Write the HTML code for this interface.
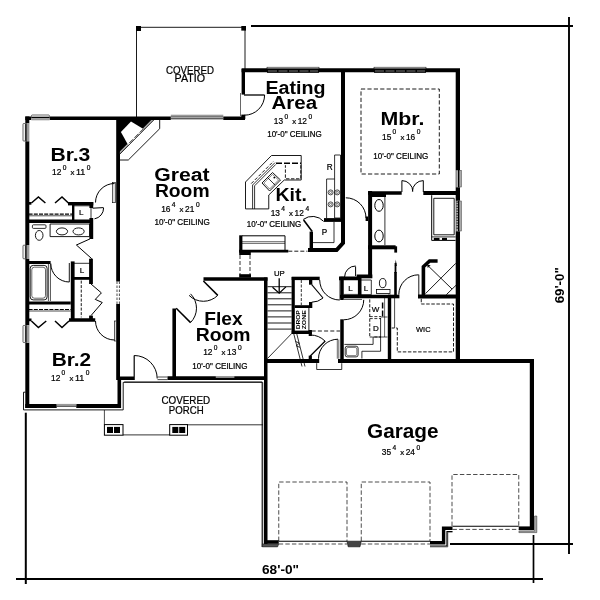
<!DOCTYPE html>
<html><head><meta charset="utf-8"><title>Floor Plan</title>
<style>
html,body{margin:0;padding:0;background:#fff;}
body{width:600px;height:600px;overflow:hidden;font-family:"Liberation Sans",sans-serif;}
svg{display:block;will-change:transform;font-family:"Liberation Sans",sans-serif;}
.w{fill:none;stroke:#000;stroke-linecap:butt;stroke-linejoin:miter;}
.k{fill:#000;}
.t{fill:none;stroke:#000;}
.win{fill:#fff;stroke:#000;stroke-width:0.7;}
.leaf{fill:#ddd;stroke:#000;stroke-width:0.6;}
text{fill:#000;}
.sm{stroke:#000;stroke-width:0.22;}
</style></head><body>
<svg width="600" height="600" viewBox="0 0 600 600">
<rect width="600" height="600" fill="#fff"/>
<g class="dimln">
<path d="M251 26H573" class="t" stroke-width="1.9" />
<path d="M569 17V554" class="t" stroke-width="1.9" />
<path d="M450 544H573" class="t" stroke-width="1.9" />
<path d="M533.5 535V583" class="t" stroke-width="1.7" />
<path d="M16 579H543" class="t" stroke-width="2.0" />
<path d="M25.8 412.7V584" class="t" stroke-width="2.0" />
</g>
<path d="M136.5 30V117" class="t" stroke-width="0.9" />
<path d="M140 27.3H243" class="t" stroke-width="0.9" />
<path d="M245 30V70" class="t" stroke-width="0.9" />
<rect x="136.00" y="26.00" width="5.00" height="5.00" class="k"/>
<rect x="241.30" y="26.00" width="4.70" height="4.60" class="k"/>
<path d="M243.3 94.6V69" class="w" stroke-width="3.4" />
<path d="M241.6 70.3H460" class="w" stroke-width="4.0" />
<path d="M457.85 69V362" class="w" stroke-width="4.3" />
<path d="M343 71V243L336.6 250H308" class="w" stroke-width="4.0" />
<path d="M245 118.3H25.3" class="w" stroke-width="3.6" />
<path d="M27.3 116.5V408" class="w" stroke-width="4.0" />
<rect x="241.30" y="114.60" width="4.00" height="4.40" class="k"/>
<path d="M118.1 118V281.5" class="w" stroke-width="3.8" />
<path d="M118.1 304V380" class="w" stroke-width="3.8" />
<path d="M117 281.5V304" class="t" stroke-width="0.7" stroke-dasharray="2.5 1.5" stroke="#222"/>
<path d="M119.4 281.5V304" class="t" stroke-width="0.7" stroke-dasharray="2.5 1.5" stroke="#222"/>
<path d="M25.3 406H121" class="w" stroke-width="4.0" />
<path d="M119.3 408V378.3H134" class="w" stroke-width="3.6" />
<path d="M25.5 392.2H23.5V409.9H123.2V382.4H262.7V547" class="t" stroke-width="0.9" />
<path d="M124.2 381.6H261.8V547" class="t" stroke-width="0.5" stroke="#888"/>
<path d="M104.4 410V424.4" class="t" stroke-width="0.7" />
<path d="M167.5 378.2H265.7" class="w" stroke-width="3.8" />
<path d="M174.2 378V308.5" class="w" stroke-width="3.6" />
<path d="M203.5 279H267.5" class="w" stroke-width="3.4" />
<path d="M265.75 277.5V545" class="w" stroke-width="3.5" />
<path d="M264 361H319.2" class="w" stroke-width="3.8" />
<path d="M338 361H534" class="w" stroke-width="4.0" />
<path d="M531.9 359V530" class="w" stroke-width="4.2" />
<rect x="267.00" y="67.20" width="52.00" height="1.60" fill="#fff" stroke="#000" stroke-width="0.55" rx="0"/>
<rect x="267.00" y="68.80" width="52.00" height="4.00" fill="#000" rx="0"/>
<path d="M268 71H318" stroke="#888" stroke-width="0.9" stroke-dasharray="9 1.5"/>
<rect x="374.00" y="67.20" width="52.00" height="1.60" fill="#fff" stroke="#000" stroke-width="0.55" rx="0"/>
<rect x="374.00" y="68.80" width="52.00" height="4.00" fill="#000" rx="0"/>
<path d="M375 71H425" stroke="#888" stroke-width="0.9" stroke-dasharray="9 1.5"/>
<rect x="170.80" y="114.40" width="52.50" height="6.00" fill="#fff" rx="0"/>
<rect x="170.80" y="114.70" width="52.50" height="2.00" fill="#9a9a9a" rx="0"/>
<path d="M170.8 117H223.3" stroke="#000" stroke-width="0.7"/><path d="M170.8 118.8H223.3" stroke="#000" stroke-width="0.9"/>
<rect x="31.30" y="116.00" width="18.30" height="4.60" fill="#fff" rx="0"/>
<rect x="31.50" y="115.00" width="17.90" height="2.00" fill="#fff" stroke="#000" stroke-width="0.6" rx="0.8"/>
<rect x="31.30" y="117.00" width="18.30" height="1.30" fill="#000" rx="0"/>
<rect x="31.30" y="118.30" width="18.30" height="2.00" fill="#9a9a9a" rx="0"/>
<rect x="24.50" y="123.30" width="5.10" height="17.95" fill="#fff" rx="0"/>
<rect x="23.00" y="123.50" width="2.40" height="17.55" fill="#fff" stroke="#000" stroke-width="0.6" rx="0.8"/>
<rect x="25.40" y="123.30" width="1.40" height="17.95" fill="#000" rx="0"/>
<rect x="26.80" y="123.30" width="2.30" height="17.95" fill="#9a9a9a" rx="0"/>
<rect x="24.50" y="245.00" width="5.10" height="14.00" fill="#fff" rx="0"/>
<rect x="23.00" y="245.20" width="2.40" height="13.60" fill="#fff" stroke="#000" stroke-width="0.6" rx="0.8"/>
<rect x="25.40" y="245.00" width="1.40" height="14.00" fill="#000" rx="0"/>
<rect x="26.80" y="245.00" width="2.30" height="14.00" fill="#9a9a9a" rx="0"/>
<rect x="24.50" y="325.25" width="5.10" height="17.50" fill="#fff" rx="0"/>
<rect x="23.00" y="325.45" width="2.40" height="17.10" fill="#fff" stroke="#000" stroke-width="0.6" rx="0.8"/>
<rect x="25.40" y="325.25" width="1.40" height="17.50" fill="#000" rx="0"/>
<rect x="26.80" y="325.25" width="2.30" height="17.50" fill="#9a9a9a" rx="0"/>
<rect x="455.80" y="170.00" width="5.20" height="17.30" fill="#fff" rx="0"/>
<rect x="456.40" y="170.00" width="1.60" height="17.30" fill="#ddd" stroke="#000" stroke-width="0.4" rx="0"/>
<rect x="458.00" y="170.00" width="1.30" height="17.30" fill="#000" rx="0"/>
<rect x="459.50" y="170.30" width="1.80" height="16.70" fill="#aaa" stroke="#333" stroke-width="0.5" rx="0"/>
<rect x="455.80" y="200.70" width="5.20" height="30.60" fill="#fff" rx="0"/>
<rect x="456.40" y="200.70" width="1.60" height="30.60" fill="#ddd" stroke="#000" stroke-width="0.4" rx="0"/>
<path d="M456.4 202.2H458.2" stroke="#000" stroke-width="0.8"/>
<path d="M456.4 204.8H458.2" stroke="#000" stroke-width="0.8"/>
<path d="M456.4 207.4H458.2" stroke="#000" stroke-width="0.8"/>
<path d="M456.4 210.0H458.2" stroke="#000" stroke-width="0.8"/>
<path d="M456.4 212.6H458.2" stroke="#000" stroke-width="0.8"/>
<path d="M456.4 215.2H458.2" stroke="#000" stroke-width="0.8"/>
<path d="M456.4 217.8H458.2" stroke="#000" stroke-width="0.8"/>
<path d="M456.4 220.4H458.2" stroke="#000" stroke-width="0.8"/>
<path d="M456.4 223.0H458.2" stroke="#000" stroke-width="0.8"/>
<path d="M456.4 225.6H458.2" stroke="#000" stroke-width="0.8"/>
<path d="M456.4 228.2H458.2" stroke="#000" stroke-width="0.8"/>
<rect x="458.00" y="200.70" width="1.30" height="30.60" fill="#000" rx="0"/>
<rect x="459.50" y="201.00" width="1.80" height="30.00" fill="#aaa" stroke="#333" stroke-width="0.5" rx="0"/>
<rect x="56.70" y="403.40" width="19.55" height="4.90" fill="#fff" rx="0"/>
<rect x="56.70" y="403.90" width="19.55" height="1.60" fill="#9a9a9a" rx="0"/>
<path d="M56.7 406.2H76.25" stroke="#000" stroke-width="0.9"/>
<rect x="215.75" y="376.00" width="18.65" height="1.90" fill="#9a9a9a" rx="0"/>
<rect x="112.60" y="182.50" width="2.70" height="20.20" class="leaf"/>
<rect x="114.30" y="321.00" width="2.10" height="20.00" class="leaf"/>
<path d="M119.7 120H151.5L119.7 151.8Z" fill="#000"/>
<path d="M143 128.7L127.7 144.3L120.9 131.9L131 121.5Z" fill="#fff"/>
<path d="M151.5 120H153.6L144.3 129.3L143 128.7Z" fill="#999"/><path d="M127.7 144.3L128.6 145.2L119.9 153.9V151.8Z" fill="#999"/>
<path d="M153.8 120L119.8 154.2" class="t" stroke-width="0.8" />
<path d="M159.7 120V128.7L128.3 160H119.7" class="t" stroke-width="0.9" />
<path d="M143.8 128.6L127.6 144.8" class="t" stroke-width="0.9" stroke-dasharray="5.5 2" stroke="#000"/>
<path d="M31.4 203L38.4 196.9L45.4 203" class="t" stroke-width="1.5" />
<path d="M55 203L62 196.9L68.4 203" class="t" stroke-width="1.5" />
<rect x="28.40" y="202.00" width="3.00" height="2.70" class="k"/>
<path d="M68 203.7H93.3" class="w" stroke-width="3.4" />
<path d="M73.2 203V222" class="w" stroke-width="2.4" />
<path d="M28 221.3H92.6" class="w" stroke-width="3.6" />
<path d="M91.3 202V208" class="w" stroke-width="3.8" />
<path d="M91.3 218V239" class="w" stroke-width="3.8" />
<path d="M74 205.8H91V218.7" class="t" stroke-width="0.8" />
<path d="M28.6 214.2H72" class="t" stroke-width="1.2" stroke-dasharray="4 1.2" stroke="#000"/>
<path d="M28.6 215.8H72" class="t" stroke-width="0.7" />
<path d="M92.6 208.2L103.6 207.6" class="t" stroke-width="1.0" />
<path d="M103.60 208.00A11.00 11.00 0 0 1 94.51 218.83" class="t" stroke-width="1.0" />
<path d="M50.1 224H89.6V236.6H50.1Z" class="t" stroke-width="0.9" />
<ellipse cx="62" cy="231.4" rx="5.6" ry="3.5" class="t" stroke-width="0.9"/>
<ellipse cx="78.6" cy="231.4" rx="5.6" ry="3.5" class="t" stroke-width="0.9"/>
<rect x="32.4" y="224.8" width="13.6" height="3.6" rx="1" class="t" stroke-width="0.8"/>
<ellipse cx="39.2" cy="235.4" rx="3.8" ry="4.9" class="t" stroke-width="0.9"/>
<path d="M90 238.9L76.4 245L91.75 258.7" class="t" stroke-width="1.0" />
<path d="M91 258.7V284" class="w" stroke-width="3.8" />
<path d="M28.6 262.5H50.6" class="w" stroke-width="3.0" />
<rect x="30.2" y="265.4" width="16.9" height="34.5" rx="3" class="t" stroke-width="0.9" stroke="#333"/>
<rect x="31.8" y="267.2" width="13.7" height="31" rx="2.5" class="t" stroke-width="0.6" stroke="#666"/>
<path d="M48.4 264V301" class="t" stroke-width="0.7" />
<path d="M50.4 264V301" class="t" stroke-width="0.7" />
<path d="M69.30 282.00A18.50 18.50 0 0 1 50.80 263.50" class="t" stroke-width="1.0" />
<path d="M69.3 263V282" class="t" stroke-width="0.9" />
<path d="M72.7 261.4V320" class="w" stroke-width="3.8" />
<path d="M72.7 278.4H91" class="w" stroke-width="2.8" />
<path d="M74 263.3H90" class="t" stroke-width="0.8" />
<path d="M28.6 303.1H70.75" class="w" stroke-width="3.0" />
<path d="M28.6 309.5H70.75" class="t" stroke-width="1.1" stroke-dasharray="4 1.2" stroke="#000"/>
<path d="M28.6 311H70.75" class="t" stroke-width="0.7" />
<path d="M69 320H95.25" class="w" stroke-width="3.5" />
<rect x="28.40" y="318.50" width="3.10" height="2.70" class="k"/>
<path d="M91 315.6V320" class="w" stroke-width="3.8" />
<path d="M81.25 280.6V317.4" class="t" stroke-width="0.9" stroke-dasharray="3 1.5" stroke="#000"/>
<path d="M91 284L101.4 292.9L95.25 299.4L102.25 302.5L91 315.6" class="t" stroke-width="1.0" />
<path d="M31.4 321L38.4 327.5L46.25 321" class="t" stroke-width="1.5" />
<path d="M55 321L62 327.5L69 321" class="t" stroke-width="1.5" />
<path d="M114.50 340.00A19.00 19.00 0 0 1 95.50 321.00" class="t" stroke-width="1.0" />
<path d="M95.50 202.50A19.00 19.00 0 0 1 114.50 183.50" class="t" stroke-width="1.0" />
<text x="81.30" y="215.40" font-size="8" text-anchor="middle" class="sm">L</text>
<text x="82.10" y="273.20" font-size="8" text-anchor="middle" class="sm">L</text>
<path d="M134.2 355.5V380" class="t" stroke-width="1.2" />
<path d="M134.20 355.50A23.00 23.00 0 0 1 157.20 378.50" class="t" stroke-width="1.0" />
<path d="M157.5 377H167.5" class="t" stroke-width="0.7" />
<path d="M157.5 379.6H167.5" class="t" stroke-width="0.7" />
<path d="M187 424.8H263" class="t" stroke-width="0.8" />
<path d="M123 434.9H170" class="t" stroke-width="0.8" stroke="#666"/>
<rect x="104.4" y="424.6" width="18.599999999999994" height="10.6" class="t" stroke-width="1"/>
<rect x="107.00" y="426.90" width="6.00" height="6.10" class="k"/>
<rect x="114.00" y="426.90" width="6.00" height="6.10" class="k"/>
<rect x="169.7" y="424.6" width="17.80000000000001" height="10.6" class="t" stroke-width="1"/>
<rect x="172.30" y="426.90" width="6.00" height="6.10" class="k"/>
<rect x="179.20" y="426.90" width="6.00" height="6.10" class="k"/>
<path d="M203.4 281L217.8 295.4" class="t" stroke-width="1.5" />
<path d="M176.2 308.2L190.6 322.6" class="t" stroke-width="1.5" />
<path d="M217.75 295.35A20.30 20.30 0 0 1 189.05 295.35" class="t" stroke-width="1.0" />
<path d="M190.55 322.55A20.30 20.30 0 0 0 190.55 293.85" class="t" stroke-width="1.0" />
<path d="M271.5 155.5H301.2V180H284.25L268.75 195V208.9H245.5V182Z" class="t" stroke-width="0.9" />
<path d="M252.6 208.9V185L275 162.6" class="t" stroke-width="0.8" />
<path d="M254.6 208.9V185.8L275.8 164.4" class="t" stroke-width="0.8" />
<path d="M251.2 183.6L273.6 161.2" class="t" stroke-width="0.9" stroke-dasharray="3.4 1.8" stroke="#333"/>
<path d="M276 163.2H301" class="t" stroke-width="1.6" stroke-dasharray="6 2" stroke="#555"/>
<path d="M300.8 165.2V178.8H285.4V165.2" class="t" stroke-width="0.9" stroke-dasharray="3.4 1.6" stroke="#111"/>
<path d="M262 183L272.5 172.5L280.5 180L269.6 191Z" class="t" stroke-width="0.9" />
<path d="M263.8 183L272.5 174.4L278.6 180L269.6 189Z" class="t" stroke-width="0.5" stroke="#555"/>
<path d="M267.6 177.6L275 185" class="t" stroke-width="0.8" />
<circle cx="274.3" cy="177.6" r="0.9" fill="#000"/>
<path d="M334.6 155H340.5V218H334.6Z" class="t" stroke-width="0.8" />
<path d="M334.6 179H326.6V218" class="t" stroke-width="0.8" stroke="#333"/>
<circle cx="330.6" cy="192.4" r="2.5" class="t" stroke-width="0.7" stroke="#333"/>
<circle cx="330.6" cy="192.4" r="1.1" class="t" stroke-width="0.5" stroke="#555"/>
<circle cx="330.6" cy="204.4" r="2.5" class="t" stroke-width="0.7" stroke="#333"/>
<circle cx="330.6" cy="204.4" r="1.1" class="t" stroke-width="0.5" stroke="#555"/>
<circle cx="337.2" cy="192.4" r="2.5" class="t" stroke-width="0.7" stroke="#333"/>
<circle cx="337.2" cy="192.4" r="1.1" class="t" stroke-width="0.5" stroke="#555"/>
<circle cx="337.2" cy="204.4" r="2.5" class="t" stroke-width="0.7" stroke="#333"/>
<circle cx="337.2" cy="204.4" r="1.1" class="t" stroke-width="0.5" stroke="#555"/>
<path d="M324 220H345" class="w" stroke-width="3.8" />
<path d="M311.3 231.6V251" class="w" stroke-width="3.4" />
<path d="M312.6 242.6H334V222" class="t" stroke-width="0.8" />
<path d="M303.6 220L312.2 231.5" class="t" stroke-width="1.6" />
<path d="M303.25 219.46A15.20 15.20 0 0 1 323.70 221.43" class="t" stroke-width="1.0" />
<path d="M240.8 235.3V252.5" class="w" stroke-width="3.2" />
<path d="M239.2 251.2H288.3" class="w" stroke-width="2.8" />
<rect x="239.20" y="250.00" width="11.60" height="5.00" class="k"/>
<path d="M242 235.8H285V250" class="t" stroke-width="1.0" />
<path d="M242 241.7H285" class="t" stroke-width="0.6" stroke="#444"/>
<path d="M242 243.4H285" class="t" stroke-width="0.6" stroke="#444"/>
<path d="M288.3 251.2H307.5" class="t" stroke-width="0.9" stroke-dasharray="4 2" stroke="#000"/>
<path d="M240 255V275" class="t" stroke-width="0.8" stroke-dasharray="4 2" stroke="#222"/>
<path d="M250 255V275" class="t" stroke-width="0.8" stroke-dasharray="4 2" stroke="#222"/>
<rect x="239.20" y="274.20" width="11.80" height="3.40" class="k"/>
<path d="M345.80 197.80A20.20 20.20 0 0 1 366.00 218.00" class="t" stroke-width="1.0" />
<rect x="365.60" y="216.50" width="2.40" height="4.50" class="k"/>
<path d="M293.2 277V334" class="w" stroke-width="3.2" />
<path d="M291.7 278.4H319.7" class="w" stroke-width="3.4" />
<path d="M267.5 286.7H291.7" class="t" stroke-width="0.9" stroke="#111"/>
<path d="M267.5 292.8H291.7" class="t" stroke-width="0.9" stroke="#111"/>
<path d="M267.5 298.8H291.7" class="t" stroke-width="0.9" stroke="#111"/>
<path d="M267.5 304.8H291.7" class="t" stroke-width="0.9" stroke="#111"/>
<path d="M267.5 310.9H291.7" class="t" stroke-width="0.9" stroke="#111"/>
<path d="M267.5 316.9H291.7" class="t" stroke-width="0.9" stroke="#111"/>
<path d="M267.5 323.0H291.7" class="t" stroke-width="0.9" stroke="#111"/>
<path d="M267.5 329.1H291.7" class="t" stroke-width="0.9" stroke="#111"/>
<path d="M291.7 333.5L267.5 358.5" class="t" stroke-width="0.8" />
<path d="M293.7 333.5L302 366.5" class="t" stroke-width="0.8" />
<path d="M296.7 333.5L305 366.5" class="t" stroke-width="0.8" />
<path d="M295.5 341.5L299.3 343L296.4 346L300 347.3" class="t" stroke-width="0.8" />
<path d="M279.2 278.3V292.5" class="t" stroke-width="1.3" />
<path d="M272.5 287.3L279.2 293.2L285.9 286.9" class="t" stroke-width="1.3" />
<rect x="309.00" y="280.00" width="3.30" height="4.70" class="k"/>
<rect x="309.00" y="302.00" width="3.30" height="6.00" class="k"/>
<path d="M294.6 306.6H312" class="w" stroke-width="2.8" />
<path d="M301.3 280V305" class="t" stroke-width="0.8" stroke-dasharray="3 1.5" stroke="#222"/>
<path d="M311.7 284.7L323 298" class="t" stroke-width="1.1" />
<path d="M322.95 298.11A17.50 17.50 0 0 1 311.70 302.20" class="t" stroke-width="1.0" />
<path d="M339.70 300.00A20.00 20.00 0 0 1 319.70 280.00" class="t" stroke-width="1.0" />
<path d="M339.9 280V300" class="t" stroke-width="0.7" />
<path d="M344 299.4H362" class="t" stroke-width="0.7" />
<path d="M308.9 308V331" class="t" stroke-width="0.9" />
<path d="M291.7 332.3H311.7" class="w" stroke-width="3.4" />
<rect x="308.70" y="330.00" width="3.20" height="6.00" class="k"/>
<path d="M311.7 331H340" class="t" stroke-width="0.9" stroke-dasharray="4 2.2" stroke="#555"/>
<rect x="308.70" y="355.60" width="3.20" height="3.60" class="k"/>
<path d="M310.25 356L325.25 341" class="t" stroke-width="1.2" />
<path d="M310.25 335.00A21.00 21.00 0 0 1 325.10 341.15" class="t" stroke-width="1.0" />
<path d="M318.50 358.70A19.50 19.50 0 0 1 338.00 339.20" class="t" stroke-width="1.0" />
<path d="M337.3 339.5V358.7M338.8 339.5V358.7" class="t" stroke-width="0.6" />
<path d="M316.7 363.2V369.5H341.75V363.2" class="t" stroke-width="0.8" stroke="#666"/>
<text transform="translate(299.9 329.3) rotate(-90)" font-size="5.2" font-weight="bold" textLength="19" lengthAdjust="spacingAndGlyphs">DROP</text>
<text transform="translate(305.5 329.3) rotate(-90)" font-size="5.2" font-weight="bold" textLength="19" lengthAdjust="spacingAndGlyphs">ZONE</text>
<path d="M342 276.7V300" class="w" stroke-width="3.5" />
<path d="M342 319.3V359" class="w" stroke-width="3.5" />
<path d="M339 278.4H359.7V298" class="w" stroke-width="3.6" />
<path d="M340 296.5H391" class="w" stroke-width="3.6" />
<path d="M356.7 276.4H372.3" class="w" stroke-width="3.8" />
<path d="M370.1 191V278" class="w" stroke-width="4.0" />
<path d="M343.7 294.4H358" class="t" stroke-width="0.7" />
<path d="M360.8 280H371.3V294.7H360.8" class="t" stroke-width="0.8" />
<path d="M363.75 299.80A20.00 20.00 0 0 1 343.75 319.80" class="t" stroke-width="1.0" />
<path d="M344.60 277.00A11.00 11.00 0 0 1 355.60 266.00" class="t" stroke-width="1.0" />
<path d="M355.6 266.5V276" class="t" stroke-width="1.0" />
<text x="350.50" y="290.60" font-size="8" text-anchor="middle" class="sm">L</text>
<text x="366.00" y="290.60" font-size="8" text-anchor="middle" class="sm">L</text>
<path d="M369.75 299.4V337" class="t" stroke-width="0.9" stroke-dasharray="3.2 1.6" stroke="#222"/>
<path d="M369.75 316.6H381" class="t" stroke-width="0.8" stroke-dasharray="3 1.6" stroke="#555"/>
<path d="M369.75 318.6H381" class="t" stroke-width="0.8" stroke-dasharray="3 1.6" stroke="#555"/>
<path d="M369.75 337H381" class="t" stroke-width="0.8" stroke-dasharray="3 1.6" stroke="#555"/>
<path d="M380.6 318V351.25" class="t" stroke-width="0.8" stroke="#555"/>
<path d="M384.6 298V337" class="t" stroke-width="0.6" stroke="#888"/>
<path d="M382.6 302.5V308.5" class="w" stroke-width="1.5" />
<path d="M382.6 310.5V316.5" class="w" stroke-width="1.5" />
<path d="M380.6 317H387.5" class="t" stroke-width="0.7" stroke="#333"/>
<path d="M380.6 337H387.5" class="t" stroke-width="0.7" stroke="#333"/>
<path d="M381 337H373.1V344.4H344.4" class="t" stroke-width="0.8" stroke="#222"/>
<path d="M380.6 351.25H361.9V358.5" class="t" stroke-width="0.8" stroke="#222"/>
<rect x="345.2" y="346.2" width="12.9" height="10.7" rx="2" class="t" stroke-width="0.8" stroke="#333"/>
<rect x="346.5" y="347.5" width="10.3" height="8.1" rx="1.5" class="t" stroke-width="0.5" stroke="#999"/>
<text x="375.60" y="311.60" font-size="8" text-anchor="middle" class="sm">W</text>
<text x="375.80" y="331.00" font-size="8" text-anchor="middle" class="sm">D</text>
<path d="M368 193.1H401.7" class="w" stroke-width="3.5" />
<path d="M423.3 193.1H457" class="w" stroke-width="4.0" />
<path d="M401.9 180.6V192" class="t" stroke-width="1.0" />
<path d="M423.3 180.6V192" class="t" stroke-width="1.0" />
<path d="M401.90 180.60A10.90 10.90 0 0 1 412.80 191.50" class="t" stroke-width="1.0" />
<path d="M423.30 180.60A10.90 10.90 0 0 0 412.40 191.50" class="t" stroke-width="1.0" />
<path d="M368 247.3H395.6" class="w" stroke-width="4.0" />
<path d="M395.7 246.3V252.6" class="w" stroke-width="2.8" stroke-linecap="round"/>
<rect x="370.00" y="193.00" width="16.00" height="4.00" class="k"/>
<path d="M384.9 197V245" class="t" stroke-width="0.8" stroke="#444"/>
<ellipse cx="379" cy="205.4" rx="4.2" ry="5.9" class="t" stroke-width="1"/>
<ellipse cx="379" cy="236" rx="4.2" ry="5.9" class="t" stroke-width="1"/>
<path d="M431.7 195.2V240.4H455.6" class="t" stroke-width="1.0" />
<path d="M433.8 198.3H454.2V234.8H433.8Z" class="t" stroke-width="0.9" stroke="#333"/>
<path d="M431.7 236.9H455.6" class="t" stroke-width="0.8" />
<rect x="433.80" y="237.90" width="5.70" height="2.10" class="k"/>
<rect x="442.00" y="237.90" width="5.00" height="2.10" class="k"/>
<path d="M395.5 272V296" class="w" stroke-width="2.6" />
<path d="M395.5 263V273" class="w" stroke-width="1.8" />
<path d="M394.8 266L395.8 259.5L396.8 266Z" fill="#000"/>
<rect x="376.5" y="289.4" width="13.5" height="4.1" class="t" stroke-width="0.8" stroke="#333"/>
<ellipse cx="382.7" cy="283.1" rx="3.3" ry="4.6" class="t" stroke-width="0.9" stroke="#333"/>
<path d="M456 296.5H418" class="w" stroke-width="3.8" />
<path d="M423.4 298V266.8L429.6 261H437.6" class="w" stroke-width="3.6" stroke-linejoin="round" stroke-linecap="round"/>
<path d="M428.3 266L452 289" class="t" stroke-width="0.9" />
<path d="M455.8 263.3L425.5 293.6" class="t" stroke-width="0.9" />
<path d="M446.3 294.7L456 285.3" class="t" stroke-width="0.9" />
<path d="M418.8 274.7V295" class="t" stroke-width="0.9" />
<path d="M427.2 264.8L430.6 265.2L427.7 268Z" fill="#000"/>
<path d="M389.5 296.7V359.2" class="w" stroke-width="3.4" />
<path d="M388 296.5H399.4" class="w" stroke-width="3.6" />
<path d="M398.80 294.60A19.80 19.80 0 0 1 418.60 274.80" class="t" stroke-width="1.0" />
<path d="M394.6 298V328" class="t" stroke-width="0.7" />
<path d="M421.25 298.75V304H453.5V351.9H397.3V328H391.7" class="t" stroke-width="0.9" stroke-dasharray="3.5 1.6" stroke="#000"/>
<text x="423.30" y="332.20" font-size="8" textLength="14.5" lengthAdjust="spacingAndGlyphs" text-anchor="middle" class="sm">WIC</text>
<path d="M361 89H439.3V174H361Z" class="t" stroke-width="0.9" stroke-dasharray="4.2 2.2" stroke="#111"/>
<path d="M264.60 95.00A20.20 20.20 0 0 1 244.40 115.20" class="t" stroke-width="1.0" />
<path d="M244 95H264.6" class="t" stroke-width="1.3" />
<path d="M240.5 93V116" class="t" stroke-width="0.6" stroke="#444"/>
<path d="M278.75 541V482H347V541" class="t" stroke-width="0.7" stroke-dasharray="4.4 2.2" stroke="#444"/>
<path d="M361.25 541V482H430V541" class="t" stroke-width="0.7" stroke-dasharray="4.4 2.2" stroke="#444"/>
<path d="M452 526V474.5H518.75V526" class="t" stroke-width="0.7" stroke-dasharray="4.4 2.2" stroke="#444"/>
<path d="M264 542H278.75" class="w" stroke-width="3.6" />
<path d="M262.3 543.9H278.75L277.6 546.9H262.3Z" fill="#555" stroke="#111" stroke-width="0.5"/>
<path d="M278.75 541.3H347" class="t" stroke-width="1.1" />
<path d="M278.75 544H347" class="t" stroke-width="0.7" stroke-dasharray="4.4 2.2" stroke="#111"/>
<path d="M347 541.2H361.25L360 546.8H348.2Z" fill="#444" stroke="#000" stroke-width="0.6"/>
<path d="M361.25 541.3H430" class="t" stroke-width="1.1" />
<path d="M361.25 544H430" class="t" stroke-width="0.7" stroke-dasharray="4.4 2.2" stroke="#111"/>
<path d="M430 542.8H443.6V528.2H452.5" class="w" stroke-width="3.4" stroke-linejoin="miter"/>
<path d="M430 546H447V531.5H452.5" class="t" stroke-width="1.2" stroke="#777"/>
<path d="M430 546.9H447.8V532.2H452.5" class="t" stroke-width="0.5" />
<path d="M452.5 526.3H518.75" class="t" stroke-width="1.1" />
<path d="M452.5 529.4H518.75" class="t" stroke-width="0.7" stroke-dasharray="4.4 2.2" stroke="#111"/>
<path d="M518.75 528.3H534" class="w" stroke-width="3.8" />
<path d="M534.6 516H536.8V532.6H518.9V531.2H534.6Z" fill="#aaa" stroke="#222" stroke-width="0.5"/>
<text x="190.00" y="73.60" font-size="10.2" textLength="48.0" lengthAdjust="spacingAndGlyphs" text-anchor="middle" class="sm">COVERED</text>
<text x="189.80" y="82.30" font-size="10.2" textLength="30.5" lengthAdjust="spacingAndGlyphs" text-anchor="middle" class="sm">PATIO</text>
<text x="185.80" y="404.20" font-size="10.2" textLength="48.8" lengthAdjust="spacingAndGlyphs" text-anchor="middle" class="sm">COVERED</text>
<text x="186.20" y="413.50" font-size="10.2" textLength="34.8" lengthAdjust="spacingAndGlyphs" text-anchor="middle" class="sm">PORCH</text>
<text x="265.50" y="93.70" font-size="18" font-weight="bold" textLength="60.1" lengthAdjust="spacingAndGlyphs" text-anchor="start" >Eating</text>
<text x="271.50" y="109.00" font-size="18" font-weight="bold" textLength="45.6" lengthAdjust="spacingAndGlyphs" text-anchor="start" >Area</text>
<text x="273.80" y="123.80" font-size="8.6" textLength="9.3" lengthAdjust="spacingAndGlyphs" text-anchor="start" class="sm">13</text>
<text x="284.40" y="118.60" font-size="6.6" text-anchor="start" class="sm">0</text>
<text x="292.20" y="123.80" font-size="7.8" text-anchor="start" class="sm">x</text>
<text x="297.70" y="123.80" font-size="8.6" textLength="9.3" lengthAdjust="spacingAndGlyphs" text-anchor="start" class="sm">12</text>
<text x="308.50" y="118.60" font-size="6.6" text-anchor="start" class="sm">0</text>
<text x="267.20" y="136.80" font-size="8.2" textLength="54.5" lengthAdjust="spacingAndGlyphs" text-anchor="start" class="sm">10'-0" CEILING</text>
<text x="380.50" y="125.00" font-size="18" font-weight="bold" textLength="43.9" lengthAdjust="spacingAndGlyphs" text-anchor="start" >Mbr.</text>
<text x="382.00" y="139.50" font-size="8.6" textLength="9.3" lengthAdjust="spacingAndGlyphs" text-anchor="start" class="sm">15</text>
<text x="392.60" y="134.30" font-size="6.6" text-anchor="start" class="sm">0</text>
<text x="400.40" y="139.50" font-size="7.8" text-anchor="start" class="sm">x</text>
<text x="405.90" y="139.50" font-size="8.6" textLength="9.3" lengthAdjust="spacingAndGlyphs" text-anchor="start" class="sm">16</text>
<text x="416.70" y="134.30" font-size="6.6" text-anchor="start" class="sm">0</text>
<text x="373.30" y="159.40" font-size="8.2" textLength="55.0" lengthAdjust="spacingAndGlyphs" text-anchor="start" class="sm">10'-0" CEILING</text>
<text x="50.40" y="160.50" font-size="18" font-weight="bold" textLength="39.9" lengthAdjust="spacingAndGlyphs" text-anchor="start" >Br.3</text>
<text x="52.10" y="175.20" font-size="8.6" textLength="9.3" lengthAdjust="spacingAndGlyphs" text-anchor="start" class="sm">12</text>
<text x="62.70" y="170.00" font-size="6.6" text-anchor="start" class="sm">0</text>
<text x="70.50" y="175.20" font-size="7.8" text-anchor="start" class="sm">x</text>
<text x="76.00" y="175.20" font-size="8.6" textLength="9.3" lengthAdjust="spacingAndGlyphs" text-anchor="start" class="sm">11</text>
<text x="86.80" y="170.00" font-size="6.6" text-anchor="start" class="sm">0</text>
<text x="154.20" y="181.30" font-size="18" font-weight="bold" textLength="55.4" lengthAdjust="spacingAndGlyphs" text-anchor="start" >Great</text>
<text x="154.90" y="197.30" font-size="18" font-weight="bold" textLength="54.7" lengthAdjust="spacingAndGlyphs" text-anchor="start" >Room</text>
<text x="161.20" y="212.30" font-size="8.6" textLength="9.3" lengthAdjust="spacingAndGlyphs" text-anchor="start" class="sm">16</text>
<text x="171.80" y="207.10" font-size="6.6" text-anchor="start" class="sm">4</text>
<text x="179.60" y="212.30" font-size="7.8" text-anchor="start" class="sm">x</text>
<text x="185.10" y="212.30" font-size="8.6" textLength="9.3" lengthAdjust="spacingAndGlyphs" text-anchor="start" class="sm">21</text>
<text x="195.90" y="207.10" font-size="6.6" text-anchor="start" class="sm">0</text>
<text x="154.40" y="225.30" font-size="8.2" textLength="55.4" lengthAdjust="spacingAndGlyphs" text-anchor="start" class="sm">10'-0" CEILING</text>
<text x="275.50" y="200.50" font-size="18" font-weight="bold" textLength="31.4" lengthAdjust="spacingAndGlyphs" text-anchor="start" >Kit.</text>
<text x="270.70" y="215.80" font-size="8.6" textLength="9.3" lengthAdjust="spacingAndGlyphs" text-anchor="start" class="sm">13</text>
<text x="281.30" y="210.60" font-size="6.6" text-anchor="start" class="sm">4</text>
<text x="289.10" y="215.80" font-size="7.8" text-anchor="start" class="sm">x</text>
<text x="294.60" y="215.80" font-size="8.6" textLength="9.3" lengthAdjust="spacingAndGlyphs" text-anchor="start" class="sm">12</text>
<text x="305.40" y="210.60" font-size="6.6" text-anchor="start" class="sm">4</text>
<text x="246.80" y="227.00" font-size="8.2" textLength="54.5" lengthAdjust="spacingAndGlyphs" text-anchor="start" class="sm">10'-0" CEILING</text>
<text x="204.20" y="325.00" font-size="18" font-weight="bold" textLength="38.4" lengthAdjust="spacingAndGlyphs" text-anchor="start" >Flex</text>
<text x="195.70" y="341.00" font-size="18" font-weight="bold" textLength="54.9" lengthAdjust="spacingAndGlyphs" text-anchor="start" >Room</text>
<text x="203.20" y="355.00" font-size="8.6" textLength="9.3" lengthAdjust="spacingAndGlyphs" text-anchor="start" class="sm">12</text>
<text x="213.80" y="349.80" font-size="6.6" text-anchor="start" class="sm">0</text>
<text x="221.60" y="355.00" font-size="7.8" text-anchor="start" class="sm">x</text>
<text x="227.10" y="355.00" font-size="8.6" textLength="9.3" lengthAdjust="spacingAndGlyphs" text-anchor="start" class="sm">13</text>
<text x="237.90" y="349.80" font-size="6.6" text-anchor="start" class="sm">0</text>
<text x="192.30" y="368.80" font-size="8.2" textLength="55.2" lengthAdjust="spacingAndGlyphs" text-anchor="start" class="sm">10'-0" CEILING</text>
<text x="51.70" y="366.30" font-size="18" font-weight="bold" textLength="39.4" lengthAdjust="spacingAndGlyphs" text-anchor="start" >Br.2</text>
<text x="51.00" y="380.60" font-size="8.6" textLength="9.3" lengthAdjust="spacingAndGlyphs" text-anchor="start" class="sm">12</text>
<text x="61.60" y="375.40" font-size="6.6" text-anchor="start" class="sm">0</text>
<text x="69.40" y="380.60" font-size="7.8" text-anchor="start" class="sm">x</text>
<text x="74.90" y="380.60" font-size="8.6" textLength="9.3" lengthAdjust="spacingAndGlyphs" text-anchor="start" class="sm">11</text>
<text x="85.70" y="375.40" font-size="6.6" text-anchor="start" class="sm">0</text>
<text x="367.00" y="437.50" font-size="20" font-weight="bold" textLength="71.5" lengthAdjust="spacingAndGlyphs" text-anchor="start" >Garage</text>
<text x="381.80" y="455.00" font-size="8.6" textLength="9.3" lengthAdjust="spacingAndGlyphs" text-anchor="start" class="sm">35</text>
<text x="392.40" y="449.80" font-size="6.6" text-anchor="start" class="sm">4</text>
<text x="400.20" y="455.00" font-size="7.8" text-anchor="start" class="sm">x</text>
<text x="405.70" y="455.00" font-size="8.6" textLength="9.3" lengthAdjust="spacingAndGlyphs" text-anchor="start" class="sm">24</text>
<text x="416.50" y="449.80" font-size="6.6" text-anchor="start" class="sm">0</text>
<text x="329.60" y="169.60" font-size="8.2" text-anchor="middle" class="sm">R</text>
<text x="324.40" y="235.30" font-size="8.2" text-anchor="middle" class="sm">P</text>
<text x="279.40" y="276.20" font-size="7.8" textLength="10.8" lengthAdjust="spacingAndGlyphs" text-anchor="middle" class="sm">UP</text>
<text x="262.00" y="573.80" font-size="12.5" font-weight="bold" textLength="37.0" lengthAdjust="spacingAndGlyphs" text-anchor="start" >68'-0"</text>
<text transform="translate(563.6 303.3) rotate(-90)" font-size="12.5" font-weight="bold" textLength="36" lengthAdjust="spacingAndGlyphs">69'-0"</text>
</svg>
</body></html>
